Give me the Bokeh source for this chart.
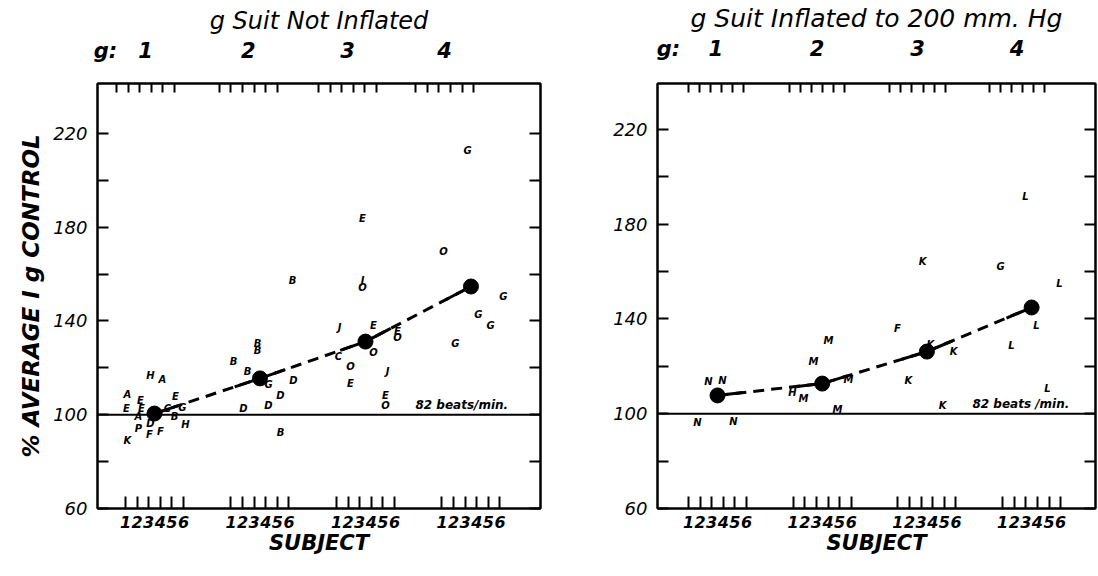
from bokeh.plotting import figure
from bokeh.layouts import row
from bokeh.models import FixedTicker, Span, Range1d, LinearAxis, CustomJSTickFormatter
from bokeh.core.properties import value
from bokeh.embed import file_html
from bokeh.resources import INLINE
import numpy as np

# ---------------- data ----------------
G_LEVELS = [1, 2, 3, 4]
SUBJECTS = ["1", "2", "3", "4", "5", "6"]
Y_MAJOR = [60, 100, 140, 180, 220]
Y_MINOR = [80, 120, 160, 200]
CONTROL = 100
CONTROL_NOTE_L = "82 beats/min."
CONTROL_NOTE_R = "82 beats /min."

TITLE_L = "g Suit Not Inflated"
TITLE_R = "g Suit Inflated to 200 mm. Hg"
Y_TITLE = "% AVERAGE I g CONTROL"
X_TITLE = "SUBJECT"

MEAN_NOT_INFLATED = [100.5, 115.5, 131.2, 154.7]
MEAN_INFLATED = [107.7, 112.7, 126.2, 144.8]

# individual runs, g suit not inflated (letter = subject, x in g units)
L_LETTER = ["A", "E", "E", "E", "A", "H", "A", "P", "D", "F", "F", "E", "C", "G", "B", "H", "K",
            "B", "B", "B", "B", "B", "D", "G", "D", "D", "D", "B",
            "J", "C", "O", "E", "E", "J", "O", "E", "O", "E", "O", "J", "E", "O",
            "O", "G", "G", "G", "G", "G"]
L_X = [0.744, 0.735, 0.867, 0.877, 0.848, 0.962, 1.076, 0.848, 0.962, 0.953, 1.057, 1.199, 1.123, 1.265, 1.19, 1.294, 0.744,
       2.308, 1.976, 1.976, 1.749, 1.882, 2.318, 2.081, 2.194, 2.081, 1.844, 2.194,
       2.754, 2.744, 2.858, 2.858, 2.972, 2.972, 2.972, 3.076, 3.076, 3.303, 3.303, 3.209, 3.190, 3.190,
       3.739, 3.967, 4.308, 4.071, 4.185, 3.853]
L_Y = [108.6, 102.7, 106.1, 102.7, 99.2, 116.7, 115.0, 94.1, 96.3, 91.6, 92.8, 107.8, 102.7, 103.1, 99.2, 95.8, 89.0,
       157.3, 130.4, 127.4, 122.7, 118.4, 114.6, 112.9, 108.2, 103.9, 102.7, 92.4,
       137.2, 124.8, 120.6, 113.3, 183.7, 157.3, 154.3, 138.1, 126.6, 135.5, 133.0, 118.4, 108.2, 103.9,
       169.6, 212.7, 150.4, 142.8, 138.1, 130.4]

# individual runs, g suit inflated
R_LETTER = ["N", "N", "N", "N",
            "M", "M", "H", "M", "M", "M",
            "K", "F", "K", "K", "K", "K",
            "L", "G", "L", "L", "L", "L"]
R_X = [0.914, 1.048, 0.809, 1.153,
       2.060, 1.917, 1.716, 1.821, 2.251, 2.146,
       2.958, 2.719, 3.254, 3.034, 2.824, 3.149,
       3.942, 3.703, 4.266, 4.047, 3.808, 4.152]
R_Y = [113.6, 114.0, 96.3, 96.7,
       130.9, 122.0, 108.9, 106.4, 114.4, 101.8,
       164.2, 135.9, 126.2, 129.2, 114.0, 103.5,
       191.6, 162.1, 154.9, 137.2, 128.8, 110.6]

FONT = "DejaVu Sans"


def make_panel(title, letters, xs, ys, means, xr, yr, frame_w, frame_h, borders,
               sub_step, top_centers, top_step, g_label_x, note_x, note_text,
               title_size, top_standoff, with_ylabel):
    bl, br, bt, bb = borders
    p = figure(frame_width=frame_w, frame_height=frame_h,
               x_range=Range1d(*xr), y_range=Range1d(*yr),
               output_backend="svg", toolbar_location=None,
               x_axis_location=None, y_axis_location=None,
               min_border_left=bl, min_border_right=br,
               min_border_top=bt, min_border_bottom=bb)
    p.xgrid.grid_line_color = None
    p.ygrid.grid_line_color = None
    p.outline_line_color = "black"
    p.outline_line_width = 2
    p.background_fill_color = "white"
    p.border_fill_color = "white"

    def style(ax):
        ax.axis_line_color = "black"
        ax.axis_line_width = 2
        ax.major_tick_line_color = "black"
        ax.major_tick_line_width = 2
        ax.minor_tick_line_color = "black"
        ax.minor_tick_line_width = 2
        ax.major_label_text_font = FONT
        ax.major_label_text_color = "black"
        ax.axis_label_text_font = FONT
        ax.axis_label_text_color = "black"

    # bottom: subject ticks
    bpos, bover = [], {}
    for g in G_LEVELS:
        for i, s in enumerate(SUBJECTS):
            v = round(g + (i - 2.5) * sub_step, 4)
            bpos.append(v)
            bover[v] = s
    bax = LinearAxis(ticker=FixedTicker(ticks=bpos, minor_ticks=[]),
                     major_label_overrides=bover, axis_label=X_TITLE)
    style(bax)
    bax.major_tick_in = 12
    bax.major_tick_out = 0
    bax.major_label_standoff = 7
    bax.major_label_text_font_size = "16px"
    bax.major_label_text_font_style = "bold italic"
    bax.axis_label_text_font_size = "21px"
    bax.axis_label_text_font_style = "bold italic"
    bax.axis_label_standoff = 0
    p.add_layout(bax, "below")

    # top: g levels, with the panel title as the axis label
    tmaj = [g_label_x] + list(top_centers)
    tover = {g_label_x: "g:"}
    for g, c in zip(G_LEVELS, top_centers):
        tover[c] = str(g)
    tmin = [round(c + (i - 2.5) * top_step, 4) for c in top_centers for i in range(6)]
    tax = LinearAxis(ticker=FixedTicker(ticks=tmaj, minor_ticks=tmin),
                     major_label_overrides=tover, axis_label=title)
    style(tax)
    tax.major_tick_in = 0
    tax.major_tick_out = 0
    tax.minor_tick_in = 9
    tax.minor_tick_out = 0
    tax.major_label_standoff = top_standoff
    tax.major_label_text_font_size = "21px"
    tax.major_label_text_font_style = "bold italic"
    tax.axis_label_text_font_size = title_size
    tax.axis_label_text_font_style = "italic"
    tax.axis_label_standoff = 1
    p.add_layout(tax, "above")

    # left axis
    lax = LinearAxis(ticker=FixedTicker(ticks=Y_MAJOR, minor_ticks=Y_MINOR))
    style(lax)
    lax.major_tick_in = 11
    lax.major_tick_out = 0
    lax.minor_tick_in = 11
    lax.minor_tick_out = 0
    lax.major_label_standoff = 10
    lax.major_label_text_font_size = "18px"
    lax.major_label_text_font_style = "italic"
    if with_ylabel:
        lax.axis_label = Y_TITLE
        lax.axis_label_text_font_size = "23px"
        lax.axis_label_text_font_style = "bold italic"
        lax.axis_label_standoff = 6
    p.add_layout(lax, "left")

    # right axis (ticks only)
    rax = LinearAxis(ticker=FixedTicker(ticks=Y_MAJOR + Y_MINOR, minor_ticks=[]),
                     formatter=CustomJSTickFormatter(code="return ''"))
    style(rax)
    rax.major_tick_in = 11
    rax.major_tick_out = 0
    rax.major_label_standoff = 0
    rax.major_label_text_font_size = "1px"
    p.add_layout(rax, "right")

    # control level
    p.add_layout(Span(location=CONTROL, dimension="width", line_color="black", line_width=2))
    p.text(x=[note_x], y=[CONTROL + 1.2], text=[note_text], text_font=value(FONT),
           text_font_size="12px", text_font_style="bold italic", text_color="black",
           text_align="left", text_baseline="bottom")

    # individual letters
    p.text(x=xs, y=ys, text=letters, text_font=value(FONT), text_font_size="10px",
           text_font_style="bold italic", text_color="black",
           text_align="center", text_baseline="middle")

    # mean line: dashed middle, solid near each mean
    gx = np.array(G_LEVELS, dtype=float)
    my = np.array(means, dtype=float)
    p.line(gx, my, line_color="black", line_width=3, line_dash="11 7")
    f = 0.24
    x0 = np.concatenate([gx[:-1], gx[1:]])
    y0 = np.concatenate([my[:-1], my[1:]])
    x1 = np.concatenate([gx[:-1] + f * np.diff(gx), gx[1:] - f * np.diff(gx)])
    y1 = np.concatenate([my[:-1] + f * np.diff(my), my[1:] - f * np.diff(my)])
    p.segment(x0, y0, x1, y1, line_color="black", line_width=3)
    p.scatter(gx, my, size=15, color="black")
    return p


left = make_panel(TITLE_L, L_LETTER, L_X, L_Y, MEAN_NOT_INFLATED,
                  xr=(0.460, 4.659), yr=(60, 241.3), frame_w=443, frame_h=425,
                  borders=(97, 58, 82, 69), sub_step=0.110,
                  top_centers=[0.915, 1.890, 2.830, 3.750], top_step=0.110,
                  g_label_x=0.536, note_x=3.474, note_text=CONTROL_NOTE_L,
                  title_size="24px", top_standoff=21, with_ylabel=True)

right = make_panel(TITLE_R, R_LETTER, R_X, R_Y, MEAN_INFLATED,
                   xr=(0.427, 4.610), yr=(60, 239.3), frame_w=438, frame_h=425,
                   borders=(59, 3, 82, 69), sub_step=0.111,
                   top_centers=[0.985, 1.950, 2.910, 3.860], top_step=0.106,
                   g_label_x=0.532, note_x=3.435, note_text=CONTROL_NOTE_R,
                   title_size="25px", top_standoff=23, with_ylabel=False)

layout = row(left, right)
open("out.html", "w").write(file_html(layout, INLINE))
